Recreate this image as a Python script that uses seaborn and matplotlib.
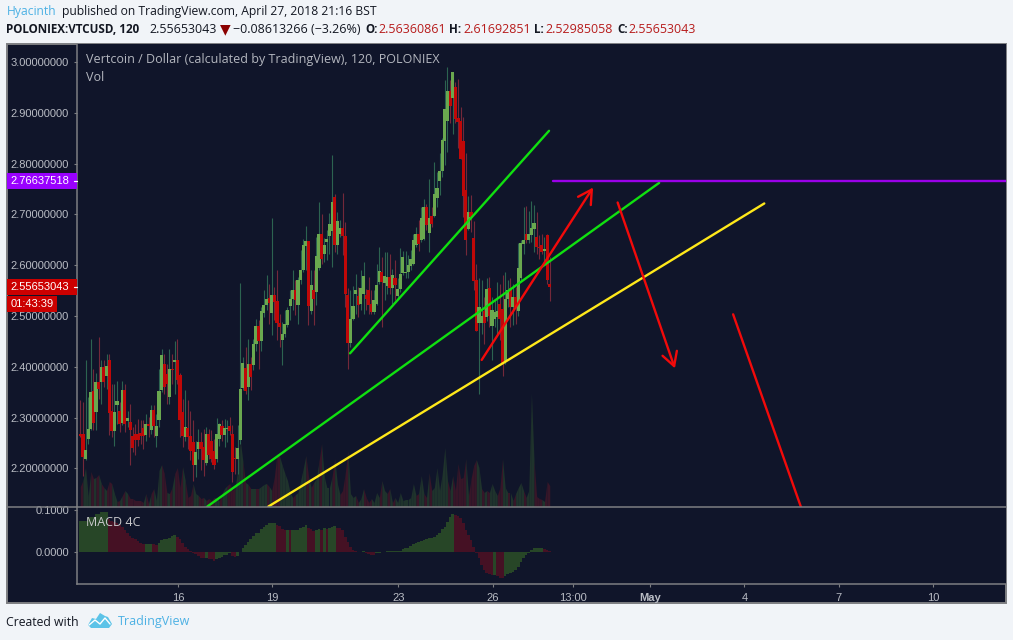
import numpy as np
import pandas as pd
import seaborn as sns
import matplotlib
matplotlib.use("Agg")
import matplotlib.pyplot as plt
from matplotlib.lines import Line2D
from matplotlib.patches import Rectangle, Polygon
from matplotlib.transforms import Affine2D

# two hour candles, first bar is late on April 12
first_day = 12.896
opens = [2.267,2.267,2.219,2.258,2.278,2.352,2.311,2.371,2.371,2.399,
    2.382,2.413,2.314,2.273,2.324,2.314,2.289,2.354,2.293,2.291,
    2.263,2.268,2.268,2.270,2.280,2.265,2.288,2.275,2.316,2.263,
    2.295,2.354,2.405,2.385,2.341,2.396,2.410,2.413,2.383,2.311,
    2.262,2.280,2.264,2.253,2.207,2.238,2.252,2.242,2.211,2.267,
    2.255,2.235,2.218,2.258,2.283,2.265,2.278,2.284,2.267,2.220,
    2.218,2.257,2.358,2.398,2.360,2.405,2.403,2.444,2.480,2.450,
    2.506,2.521,2.536,2.506,2.541,2.529,2.487,2.452,2.465,2.482,
    2.519,2.533,2.551,2.521,2.570,2.590,2.638,2.647,2.509,2.552,
    2.547,2.594,2.661,2.623,2.645,2.657,2.668,2.734,2.639,2.662,
    2.673,2.658,2.541,2.446,2.494,2.544,2.539,2.524,2.544,2.541,
    2.551,2.524,2.507,2.523,2.567,2.587,2.565,2.559,2.576,2.556,
    2.574,2.539,2.553,2.585,2.585,2.587,2.599,2.603,2.639,2.661,
    2.649,2.652,2.715,2.664,2.697,2.697,2.733,2.766,2.786,2.845,
    2.884,2.942,2.930,2.950,2.889,2.884,2.844,2.749,2.672,2.705,
    2.654,2.570,2.486,2.486,2.509,2.498,2.556,2.480,2.495,2.498,
    2.523,2.514,2.409,2.534,2.556,2.518,2.537,2.510,2.574,2.641,
    2.662,2.650,2.659,2.672,2.656,2.635,2.639,2.629,2.659,2.5636]
closes = [2.264,2.222,2.237,2.278,2.350,2.289,2.370,2.356,2.399,2.370,
    2.401,2.309,2.273,2.312,2.332,2.287,2.354,2.288,2.300,2.275,
    2.240,2.257,2.257,2.263,2.263,2.288,2.283,2.316,2.283,2.283,
    2.352,2.423,2.360,2.366,2.396,2.394,2.412,2.375,2.296,2.264,
    2.281,2.262,2.234,2.206,2.232,2.252,2.239,2.216,2.267,2.226,
    2.219,2.206,2.268,2.287,2.265,2.280,2.280,2.273,2.194,2.218,
    2.241,2.357,2.408,2.352,2.405,2.380,2.445,2.480,2.450,2.509,
    2.521,2.534,2.526,2.541,2.528,2.486,2.478,2.465,2.484,2.511,
    2.534,2.551,2.531,2.570,2.591,2.639,2.647,2.519,2.562,2.533,
    2.618,2.661,2.612,2.639,2.652,2.682,2.725,2.639,2.687,2.673,
    2.657,2.543,2.446,2.495,2.519,2.551,2.521,2.556,2.578,2.533,
    2.521,2.507,2.531,2.562,2.589,2.567,2.578,2.577,2.556,2.580,
    2.562,2.554,2.582,2.616,2.587,2.600,2.613,2.649,2.661,2.641,
    2.692,2.715,2.679,2.692,2.681,2.741,2.753,2.786,2.846,2.907,
    2.943,2.914,2.980,2.887,2.882,2.810,2.737,2.649,2.705,2.695,
    2.568,2.470,2.518,2.501,2.486,2.553,2.501,2.511,2.508,2.509,
    2.495,2.408,2.534,2.551,2.518,2.537,2.518,2.595,2.643,2.649,
    2.649,2.661,2.674,2.683,2.636,2.633,2.626,2.630,2.570,2.5565]
highs = [2.335,2.331,2.413,2.341,2.454,2.396,2.387,2.458,2.413,2.414,
    2.426,2.426,2.367,2.367,2.373,2.331,2.373,2.366,2.314,2.327,
    2.281,2.287,2.298,2.295,2.296,2.308,2.301,2.324,2.324,2.308,
    2.396,2.436,2.426,2.406,2.436,2.426,2.450,2.454,2.387,2.337,
    2.354,2.334,2.314,2.295,2.255,2.277,2.272,2.278,2.281,2.278,
    2.275,2.258,2.300,2.289,2.295,2.298,2.295,2.302,2.285,2.242,
    2.285,2.565,2.420,2.439,2.454,2.420,2.454,2.495,2.492,2.518,
    2.551,2.580,2.564,2.692,2.557,2.590,2.505,2.488,2.511,2.518,
    2.551,2.590,2.570,2.577,2.630,2.652,2.677,2.648,2.590,2.590,
    2.656,2.725,2.700,2.654,2.669,2.702,2.817,2.740,2.705,2.689,
    2.743,2.685,2.556,2.551,2.560,2.583,2.557,2.590,2.606,2.554,
    2.577,2.551,2.551,2.602,2.635,2.616,2.626,2.626,2.622,2.593,
    2.610,2.574,2.633,2.629,2.629,2.620,2.630,2.662,2.675,2.689,
    2.715,2.730,2.720,2.769,2.715,2.804,2.784,2.820,2.850,2.965,
    2.990,2.965,2.981,2.961,2.967,2.912,2.891,2.820,2.736,2.738,
    2.687,2.603,2.574,2.570,2.537,2.574,2.577,2.537,2.531,2.567,
    2.564,2.580,2.587,2.570,2.574,2.564,2.557,2.643,2.649,2.715,
    2.716,2.706,2.726,2.718,2.705,2.659,2.662,2.656,2.662,2.6169]
lows = [2.262,2.186,2.216,2.249,2.275,2.275,2.275,2.337,2.327,2.360,
    2.357,2.265,2.262,2.244,2.288,2.272,2.285,2.272,2.281,2.206,
    2.232,2.226,2.245,2.249,2.239,2.255,2.262,2.268,2.262,2.242,
    2.281,2.350,2.347,2.327,2.327,2.367,2.347,2.367,2.262,2.242,
    2.255,2.239,2.216,2.176,2.183,2.219,2.196,2.186,2.206,2.219,
    2.212,2.199,2.212,2.245,2.255,2.242,2.252,2.265,2.173,2.190,
    2.190,2.249,2.355,2.347,2.334,2.355,2.393,2.432,2.396,2.432,
    2.498,2.511,2.485,2.462,2.492,2.452,2.439,2.403,2.459,2.478,
    2.492,2.511,2.503,2.485,2.564,2.587,2.590,2.482,2.505,2.482,
    2.521,2.590,2.603,2.607,2.610,2.623,2.597,2.626,2.623,2.656,
    2.620,2.518,2.396,2.439,2.492,2.505,2.498,2.511,2.505,2.511,
    2.505,2.505,2.505,2.521,2.564,2.478,2.531,2.544,2.544,2.524,
    2.531,2.534,2.547,2.580,2.574,2.574,2.590,2.600,2.636,2.629,
    2.646,2.649,2.669,2.626,2.675,2.695,2.715,2.738,2.774,2.797,
    2.823,2.879,2.859,2.879,2.830,2.810,2.695,2.620,2.669,2.666,
    2.551,2.470,2.347,2.465,2.445,2.491,2.478,2.414,2.478,2.465,
    2.452,2.382,2.406,2.518,2.478,2.482,2.485,2.501,2.570,2.623,
    2.643,2.643,2.646,2.626,2.623,2.613,2.623,2.606,2.564,2.5299]
volume = [20,26,39,10,35,28,29,32,23,19,
    16,25,23,13,5,6,11,16,13,8,
    8,6,6,6,4,13,3,13,18,6,
    36,42,33,14,13,19,33,39,19,40,
    26,9,11,23,13,11,8,9,6,8,
    6,9,8,6,13,18,21,23,16,19,
    36,66,45,24,22,18,18,18,18,20,
    22,23,20,16,30,53,50,41,33,26,
    14,9,12,14,26,38,51,30,19,24,
    28,45,63,30,19,19,30,48,23,12,
    16,33,56,13,9,11,4,8,18,9,
    4,8,4,14,9,26,16,13,18,4,
    9,4,14,6,7,7,9,23,11,13,
    31,13,9,34,16,19,39,16,33,59,
    26,16,31,16,43,28,29,48,11,28,
    41,47,39,18,14,16,14,23,16,11,
    19,48,19,14,14,6,13,19,24,16,
    9,16,114,46,10,8,7,5,25,21]
macd = [.074,.074,.074,.082,.083,.083,.090,.091,.095,.095,
    .095,.078,.074,.071,.068,.063,.060,.052,.046,.038,
    .034,.030,.026,.020,.019,.019,.019,.019,.018,.015,
    .022,.028,.030,.031,.034,.038,.040,.036,.030,.020,
    .012,.006,.002,-.002,-.006,-.010,-.014,-.016,-.014,-.017,
    -.018,-.022,-.017,-.014,-.012,-.009,-.007,-.004,-.010,-.013,
    -.010,-.001,.010,.015,.023,.030,.038,.044,.046,.054,
    .060,.065,.068,.069,.069,.064,.062,.055,.053,.053,
    .052,.052,.052,.052,.056,.060,.064,.058,.054,.050,
    .052,.055,.053,.056,.055,.058,.060,.062,.058,.056,
    .052,.036,.024,.012,.004,.002,0,0,.002,-.002,
    -.005,-.007,-.008,-.004,-.002,-.001,0,.001,.001,.001,
    .001,.001,.002,.006,.009,.010,.014,.018,.020,.023,
    .026,.028,.030,.032,.034,.036,.040,.046,.054,.060,
    .072,.084,.090,.088,.086,.080,.068,.052,.040,.028,
    .012,-.002,-.016,-.032,-.044,-.050,-.054,-.056,-.056,-.058,
    -.062,-.064,-.058,-.054,-.050,-.048,-.044,-.036,-.024,-.016,
    -.008,-.002,.004,.010,.010,.010,.010,.007,.004,.002]

price_ticks = [2.2, 2.3, 2.4, 2.5, 2.6, 2.7, 2.8, 2.9, 3.0]
macd_ticks = [0.0, 0.1]
date_ticks = [16, 19, 23, 26, 28.54, 31, 34, 37, 40]
date_labels = ["16", "19", "23", "26", "13:00", "May", "4", "7", "10"]

# hand drawn lines on the chart, day of month (May 1 = 31) and price
hline_price = 2.76637518
hline_start = 27.93
short_green_x, short_green_y = [21.466, 27.79], [2.4266, 2.8646]
long_green_x, long_green_y = [16.93, 31.29], [2.125, 2.7622]
yellow_x, yellow_y = [18.87, 34.63], [2.125, 2.7216]
arrow_up_x, arrow_up_y = [25.65, 29.19], [2.4136, 2.7530]
arrow_down_x, arrow_down_y = [29.97, 31.79], [2.7235, 2.3970]
red_x, red_y = [33.64, 35.80], [2.5034, 2.1232]

PAGE = "#f1f4f8"
PANE = "#10152a"
EDGE = "#7d7e82"
GRID_TXT = "#b9bcc4"
UP, DOWN = "#6aa84f", "#c00808"
UP_WICK, DOWN_WICK = "#2c6350", "#74283a"
VOL_UP, VOL_DOWN = "#1f332c", "#371628"
MACD_UP, MACD_DOWN = "#274627", "#451124"
TXT_FONT = "Open Sans"
NUM_FONT = "Liberation Sans"

sns.set_theme(style="dark", rc={"axes.facecolor": PANE, "figure.facecolor": PAGE})
plt.rcParams["font.family"] = [TXT_FONT, "DejaVu Sans"]

fig = plt.figure(figsize=(10.13, 6.4), dpi=100)
px = Affine2D().scale(1 / 1013, -1 / 640).translate(0, 1) + fig.transFigure


def pane_axes(left, top, right, bottom):
    return fig.add_axes([left / 1013, 1 - bottom / 640, (right - left) / 1013, (bottom - top) / 640])


fig.add_artist(Rectangle((6.5, 43.5), 999.5, 559.5, transform=px, fc=PANE, ec=EDGE, lw=1.4, zorder=-1))

ax_vol = pane_axes(77, 43.5, 1006, 506.5)
ax = ax_vol.twinx()
ax_macd = pane_axes(77, 506.5, 1006, 584)

df = pd.DataFrame({"day": first_day + np.arange(len(closes)) / 12, "open": opens, "high": highs,
                   "low": lows, "close": closes, "volume": volume, "macd": macd})
df["rising"] = df["close"] >= df["open"]

# volume area, one colour per bar
days = df["day"].to_numpy()
for i in range(len(df)):
    lo, hi = max(i - 1, 0), i + 1
    ax_vol.fill_between(days[lo:hi], 0, volume[lo:hi], lw=0, color=VOL_UP if df["rising"][i] else VOL_DOWN)
ax_vol.set_ylim(0, 463)

# candles
ax.vlines(df["day"], df["low"], df["high"], lw=0.8, zorder=2,
          colors=[UP_WICK if r else DOWN_WICK for r in df["rising"]])
ax.bar(df["day"], (df["close"] - df["open"]).abs().clip(lower=0.0025), bottom=df[["open", "close"]].min(axis=1),
       width=0.1, lw=0, zorder=3, color=[UP if r else DOWN for r in df["rising"]])

# drawings
for xs, ys, col in [(short_green_x, short_green_y, "#10e010"), (long_green_x, long_green_y, "#10e010"),
                    (yellow_x, yellow_y, "#ffe81a"), (red_x, red_y, "#f20a0a")]:
    sns.lineplot(x=xs, y=ys, color=col, lw=1.7, sort=False, errorbar=None, ax=ax, zorder=5)
ax.plot([hline_start, 43], [hline_price, hline_price], color="#9a00e8", lw=1.7, zorder=5)
for xs, ys in [(arrow_up_x, arrow_up_y), (arrow_down_x, arrow_down_y)]:
    ax.annotate("", xy=(xs[1], ys[1]), xytext=(xs[0], ys[0]), zorder=6,
                arrowprops=dict(arrowstyle="->,head_length=0.75,head_width=0.42", color="#f20a0a",
                                lw=1.7, shrinkA=0, shrinkB=0, mutation_scale=13))

# macd histogram
df["trend"] = np.where(df["macd"].diff().fillna(0) >= 0, "up", "down")
sns.barplot(data=df, x="day", y="macd", hue="trend", palette={"up": MACD_UP, "down": MACD_DOWN}, native_scale=True,
            dodge=False, width=1.0, orient="x", saturation=1, errorbar=None, legend=False, lw=0, ax=ax_macd)

# axes set up
xlim = (16 + (77 - 178) / 31.47, 16 + (1006 - 178) / 31.47)
ax.set_xlim(xlim)
ax_vol.set_xlim(xlim)
ax_macd.set_xlim(xlim)
ax.set_ylim(3 - 444 / 507.5, 3 + 18.5 / 507.5)
ax_macd.set_ylim(-32.3 / 417, 45.2 / 417)
ax_vol.set_xticks([])
ax_vol.set_yticks([])
ax_vol.set_xlabel("")
ax_vol.set_ylabel("")

ax.yaxis.tick_left()
ax.set_yticks(price_ticks)
ax.set_yticklabels(["%.8f" % t for t in price_ticks])
ax.set_ylabel("")
ax.set_xlabel("")
ax.tick_params(axis="y", left=True, right=False, labelleft=True, labelright=False, length=2.2, width=0.8,
               color=EDGE, pad=3.6, labelsize=8, labelcolor=GRID_TXT)
ax.tick_params(axis="x", bottom=False, labelbottom=False)
for label in ax.get_yticklabels():
    label.set_fontfamily(NUM_FONT)

ax_macd.set_yticks(macd_ticks)
ax_macd.set_yticklabels(["%.4f" % t for t in macd_ticks])
ax_macd.set_xticks(date_ticks)
ax_macd.set_xticklabels(date_labels)
ax_macd.set_xlabel("")
ax_macd.set_ylabel("")
ax_macd.tick_params(axis="both", bottom=True, left=True, length=2.2, width=0.8, color=EDGE, pad=3.6,
                    labelsize=8, labelcolor=GRID_TXT)
ax_macd.tick_params(axis="x", pad=4.5)
for label in ax_macd.get_yticklabels() + ax_macd.get_xticklabels():
    label.set_fontfamily(NUM_FONT)
ax_macd.get_xticklabels()[5].set_fontweight("bold")

for a in (ax_vol, ax, ax_macd):
    for side in a.spines:
        a.spines[side].set_visible(False)
    a.grid(False)
for a, sides in ((ax, ["left"]), (ax_macd, ["left", "bottom"])):
    for side in sides:
        a.spines[side].set_visible(True)
        a.spines[side].set_color(EDGE)
        a.spines[side].set_linewidth(1.1)
fig.add_artist(Line2D([6.5, 1006], [506.5, 506.5], transform=px, color=EDGE, lw=1.1, zorder=4))

# price flags on the scale
fig.add_artist(Rectangle((7, 173), 70, 16, transform=px, fc="#9900ff", lw=0, zorder=5))
fig.add_artist(Rectangle((7, 279), 70, 16, transform=px, fc="#cc0000", lw=0, zorder=5))
fig.add_artist(Rectangle((7, 296), 50, 16, transform=px, fc="#cc0000", lw=0, zorder=5))
for y in (180.5, 287):
    fig.add_artist(Line2D([74, 77], [y, y], transform=px, color="white", lw=0.9, zorder=6))
flag = dict(transform=px, color="white", fontsize=8, family=NUM_FONT, va="center", zorder=6)
fig.text(69, 181, "2.76637518", ha="right", **flag)
fig.text(69, 287, "2.55653043", ha="right", **flag)
fig.text(11, 304, "01:43:39", ha="left", **flag)

# pane legends
pane_txt = dict(transform=px, color="#b4b7bf", fontsize=9, va="center", zorder=6)
fig.text(86, 60, "Vertcoin / Dollar (calculated by TradingView), 120, POLONIEX", **pane_txt)
fig.text(86, 77.5, "Vol", **pane_txt)
fig.text(86, 523, "MACD 4C", transform=px, color="#c9c9cc", fontsize=9, va="center", zorder=6)

# header
dark = "#131722"
value_red = "#b71c1c"
head = dict(transform=px, fontsize=9, va="center")
line1 = dict(transform=px, fontsize=8.7, va="center")
bold = dict(transform=px, fontsize=8.4, va="center", fontweight="bold", color=dark)
fig.text(6.5, 11.5, "Hyacinth", color="#4db1e4", **line1)
fig.text(62, 11.5, "published on TradingView.com, April 27, 2018 21:16 BST", color=dark, **line1)
fig.text(6.5, 29.5, "POLONIEX:VTCUSD, 120", **bold)
fig.text(149, 29.5, "2.55653043", color=dark, **head)
fig.text(225, 29.5, "\u25bc", color="#8b0000", transform=px, fontsize=10, va="center", ha="center",
         family="DejaVu Sans")
fig.text(233, 29.5, "\u22120.08613266 (\u22123.26%)", color=dark, **head)
for x_lab, lab, x_val, val in [(365, "O:", 378, "2.56360861"), (449, "H:", 463, "2.61692851"),
                               (534, "L:", 545, "2.52985058"), (617, "C:", 628, "2.55653043")]:
    fig.text(x_lab, 29.5, lab, **bold)
    fig.text(x_val, 29.5, val, color=value_red, **head)

# footer with the little cloud logo
fig.text(6.5, 622, "Created with", color=dark, transform=px, fontsize=8.8, va="center")
fig.text(118, 622, "TradingView", color="#4db1e4", transform=px, fontsize=9, va="center")
fig.add_artist(Polygon([(88, 625), (92, 618), (96, 619), (100, 613), (105, 616), (108, 617), (112, 624),
                        (109, 628), (91, 628)], transform=px, fc="#5cc3e8", lw=0, zorder=5))
fig.add_artist(Line2D([89, 95, 100, 105, 110], [625, 620, 624, 618, 624], transform=px, color="white", lw=1.0, zorder=6))

fig.savefig("out.png", dpi=100)
